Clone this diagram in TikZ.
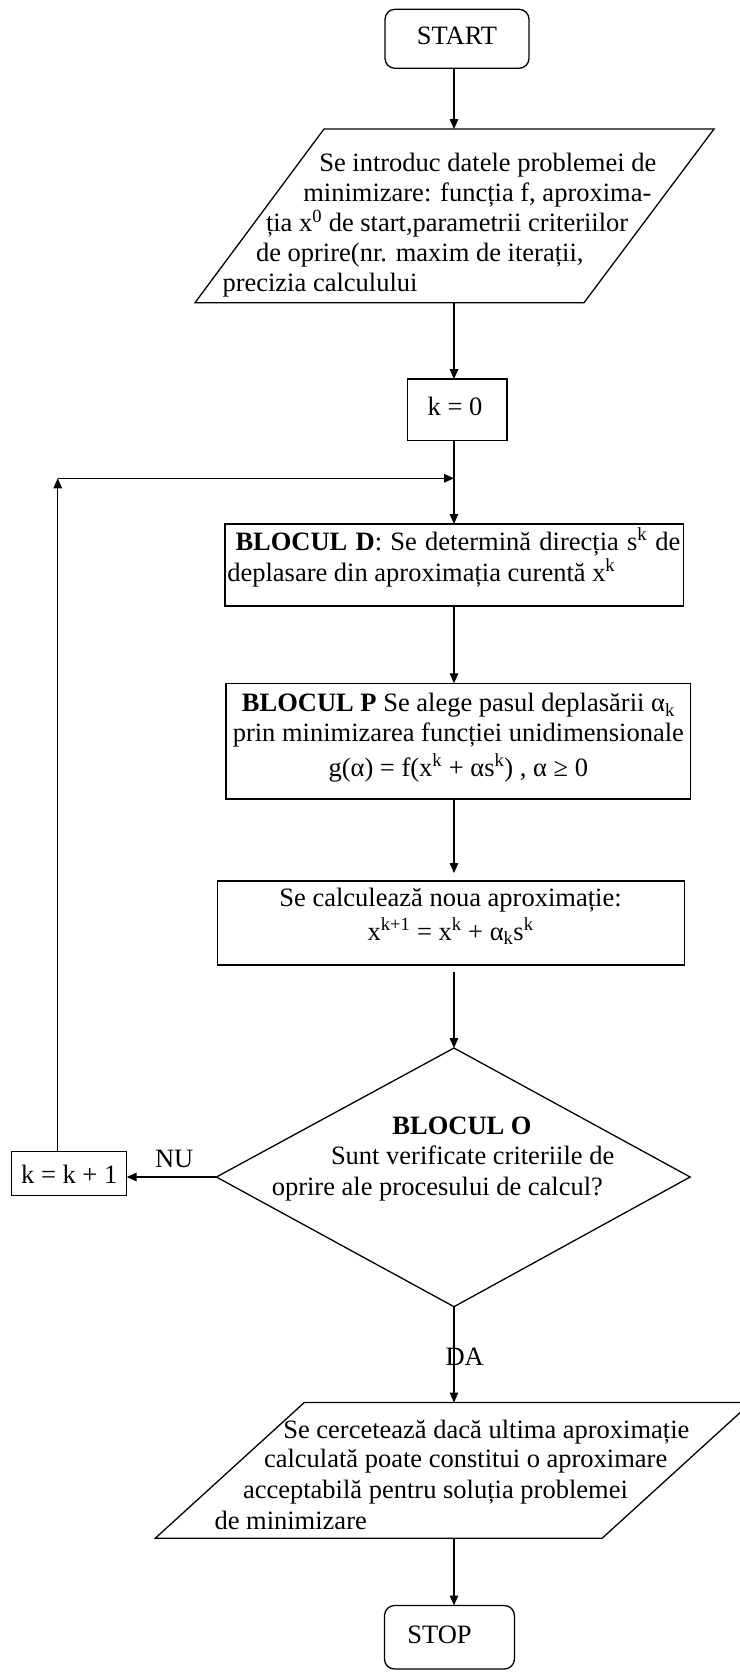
\documentclass[tikz,border=0pt]{standalone}
\usepackage{fontspec}
\setmainfont{Liberation Serif}
\usetikzlibrary{arrows.meta}
\newcommand\mfs{\fontsize{26.5pt}{30pt}\selectfont}
\newcommand\jst[2]{\makebox[#1pt][s]{#2}}
\newcommand\sps[1]{\textsuperscript{#1}}
\newcommand\sbs[1]{\textsubscript{#1}}
\begin{document}
\begin{tikzpicture}[x=1pt,y=-1pt,line width=1.3pt,
  arr/.style={-{Triangle[length=10pt,width=8.5pt]}},
  box/.style={draw,rectangle,inner sep=0pt,outer sep=0pt},
  term/.style={draw,rectangle,rounded corners=10pt,inner sep=0pt,outer sep=0pt},
  txt/.style={inner sep=0pt,outer sep=0pt,font=\mfs,anchor=base west},
  ctxt/.style={inner sep=0pt,outer sep=0pt,font=\mfs,anchor=base}]
\useasboundingbox (0,0) rectangle (739,1676);
\fill[white] (0,0) rectangle (739,1676);
\coordinate (colx) at (454,0);
% START
\node[term,minimum width=144pt,minimum height=59pt] (start) at (457,38.8) {};
\node[ctxt] (startt) at (457,44.3) {START};
% input parallelogram
\coordinate (in-tl) at (324,129);
\coordinate (in-tr) at (714,129);
\coordinate (in-br) at (584,302.7);
\coordinate (in-bl) at (195,302.7);
\coordinate (in-top) at (454,129);
\coordinate (in-bot) at (454,302.7);
\draw (in-tl) -- (in-tr) -- (in-br) -- (in-bl) -- cycle;
\node[txt] (in1) at (319.3,171) {Se introduc datele problemei de};
\node[txt] (in2) at (303.3,201) {minimizare: funcția f, aproxima-};
\node[txt] (in3) at (266,231.7) {ția x\sps{0} de start,parametrii criteriilor};
\node[txt] (in4) at (256,261.7) {de oprire(nr. maxim de iterații,};
\node[txt] (in5) at (222.5,291.7) {precizia calculului};
% k = 0
\node[box,minimum width=99.6pt,minimum height=61.7pt] (k0) at (457.1,409.85) {};
\node[ctxt] (k0t) at (455,415) {k = 0};
% Block D
\node[box,minimum width=458.3pt,minimum height=82pt] (bd) at (454.15,565) {};
\node[txt] (bd1) at (235.5,550) {\jst{445}{\textbf{BLOCUL D}: Se determină direcția s\sps{k} de}};
\node[txt] (bd2) at (227.3,581) {deplasare din aproximația curentă x\sps{k}};
% Block P
\node[box,minimum width=464.7pt,minimum height=115.7pt] (bp) at (458.35,741.15) {};
\node[ctxt] (bp1) at (458.35,711.7) {\textbf{BLOCUL P} Se alege pasul deplasării α\sbs{k}};
\node[ctxt] (bp2) at (458.35,741.7) {prin minimizarea funcției unidimensionale};
\node[ctxt] (bp3) at (458.3,776) {g(α) = f(x\sps{k} + αs\sps{k}) , α ≥ 0};
% calc
\node[box,minimum width=466.6pt,minimum height=84pt] (calc) at (451,923) {};
\node[ctxt] (calc1) at (450.5,906.7) {Se calculează noua aproximație:};
\node[ctxt] (calc2) at (450.6,940) {x\sps{k+1} = x\sps{k} + α\sbs{k}s\sps{k}};
% decision
\coordinate (dtop) at (454,1048);
\coordinate (dleft) at (216.4,1177);
\coordinate (dbot) at (454,1306.7);
\coordinate (dright) at (690.1,1177);
\draw (dtop) -- (dright) -- (dbot) -- (dleft) -- cycle;
\node[ctxt] (do1) at (462,1134.5) {\textbf{BLOCUL O}};
\node[txt] (do2) at (331,1164.7) {Sunt verificate criteriile de};
\node[txt] (do3) at (271.8,1195.3) {oprire ale procesului de calcul?};
% k = k + 1
\node[box,minimum width=115pt,minimum height=44pt] (kk) at (69.2,1173.7) {};
\node[ctxt] (kkt) at (69.2,1183) {k = k + 1};
\node[txt] (nu) at (155,1167.3) {NU};
\node[txt] (da) at (445.6,1365.5) {DA};
% output parallelogram
\coordinate (out-tl) at (304.3,1402.5);
\coordinate (out-tr) at (751.2,1402.5);
\coordinate (out-br) at (602.2,1538.2);
\coordinate (out-bl) at (155.3,1538.2);
\coordinate (out-top) at (454,1402.5);
\coordinate (out-bot) at (454,1538.2);
\draw (out-tl) -- (out-tr) -- (out-br) -- (out-bl) -- cycle;
\node[txt] (out1) at (283.3,1438) {Se cercetează dacă ultima aproximație};
\node[txt] (out2) at (264,1467) {calculată poate constitui o aproximare};
\node[txt] (out3) at (243,1498) {acceptabilă pentru soluția problemei};
\node[txt] (out4) at (214.5,1529) {de minimizare};
% STOP
\node[term,minimum width=129.9pt,minimum height=63.5pt] (stop) at (449.45,1637.25) {};
\node[ctxt] (stopt) at (439.5,1643.6) {STOP};
% loop coordinates
\coordinate (loopc) at (57.7,478.3);
\coordinate (loopj) at (454,478.3);
% connectors
\draw[arr] (start.south -| colx) -- (in-top);
\draw[arr] (in-bot) -- (k0.north -| colx);
\draw[arr] (k0.south -| colx) -- (bd.north -| colx);
\draw[arr] (kk.north -| loopc) -- (loopc);
\draw[arr] (loopc) -- (loopj);
\draw[arr] (bd.south -| colx) -- (bp.north -| colx);
\draw[arr,shorten >=8pt] (bp.south -| colx) -- (calc.north -| colx);
\draw[arr,shorten <=7pt] (calc.south -| colx) -- (dtop);
\draw[arr] (dleft) -- (kk.east |- dleft);
\draw[arr] (dbot) -- (out-top);
\draw[arr] (out-bot) -- (stop.north -| colx);
\end{tikzpicture}
\end{document}
